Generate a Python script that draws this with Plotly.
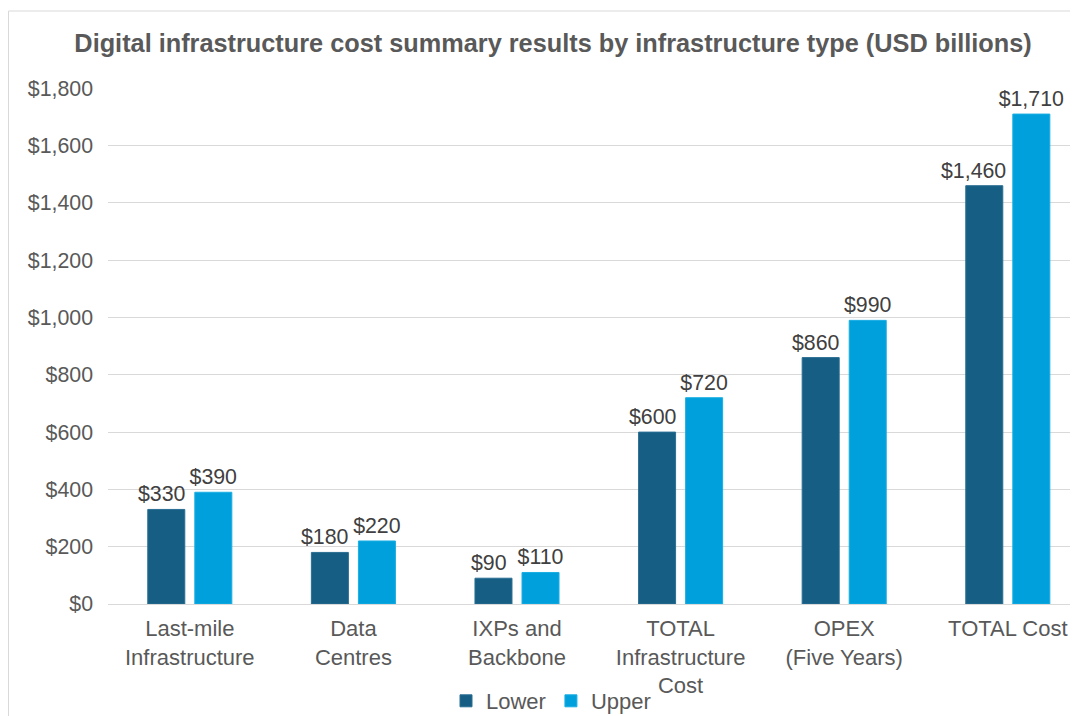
import plotly.graph_objects as go

categories = ["Last-mile<br>Infrastructure", "Data<br>Centres", "IXPs and<br>Backbone",
              "TOTAL<br>Infrastructure<br>Cost", "OPEX<br>(Five Years)", "TOTAL Cost"]
lower = [330, 180, 90, 600, 860, 1460]
upper = [390, 220, 110, 720, 990, 1710]
y_ticks = [0, 200, 400, 600, 800, 1000, 1200, 1400, 1600, 1800]
y_tick_text = ["$" + format(v, ",") for v in y_ticks]

FONT = "Liberation Sans, Arial, sans-serif"
W, H = 1070, 708
L, R, T, B = 100, 0, 80, 112
pw, ph = W - L - R, H - T - B
CAT_W = 163.6
LABEL_FONT = dict(family=FONT, size=21.33, color="#404040")

def px_x(p):
    return (p - L) / pw

def px_y(p):
    return (H - B - p) / ph

fig = go.Figure()
fig.add_trace(go.Bar(
    name="Lower", x=categories, y=lower,
    marker=dict(color="#165E83", line=dict(color="#2a6f93", width=1)),
))
fig.add_trace(go.Bar(
    name="Upper", x=categories, y=upper,
    marker=dict(color="#00A0DC", line=dict(color="#1aaee4", width=1)),
    text=["$" + format(v, ",") for v in upper], textposition="outside",
    constraintext="none", textfont=LABEL_FONT, cliponaxis=False,
))

# Lower-series data labels (nudged left of the bar centre as in the original)
annotations = [
    dict(x=c, y=v, xref="x", yref="y", text="$" + format(v, ","), showarrow=False,
         xanchor="center", yanchor="bottom", xshift=-28 - (6 if v >= 1000 else 0), yshift=1,
         font=LABEL_FONT)
    for c, v in zip(categories, lower)
]

fig.update_layout(
    width=W, height=H,
    margin=dict(l=L, r=R, t=T, b=B, autoexpand=False),
    paper_bgcolor="white", plot_bgcolor="white",
    barmode="group", bargap=0.425, bargroupgap=0.213,
    font=dict(family=FONT, color="#595959", size=22),
    title=dict(
        text="<b>Digital infrastructure cost summary results by infrastructure type (USD billions)</b>",
        x=545 / W, xanchor="center", xref="container",
        y=1 - 35 / H, yanchor="middle", yref="container",
        font=dict(family=FONT, size=25.3, color="#595959"),
    ),
    showlegend=True,
    legend=dict(
        orientation="h", x=px_x(543), xanchor="center", y=px_y(693), yanchor="middle",
        font=dict(family=FONT, size=22, color="#595959"),
        itemwidth=30, traceorder="normal",
    ),
    xaxis=dict(
        range=[-0.5, -0.5 + pw / CAT_W], showgrid=False, showline=False, zeroline=False,
        ticks="", tickfont=dict(family=FONT, size=22, color="#595959"),
        ticklabelstandoff=9, automargin=False,
    ),
    yaxis=dict(
        range=[0, 1801], tickvals=y_ticks, ticktext=y_tick_text,
        showgrid=True, gridcolor="#d9d9d9", gridwidth=1,
        zeroline=True, zerolinecolor="#d9d9d9", zerolinewidth=1,
        showline=False, ticks="", ticklabelstandoff=14, automargin=False,
        tickfont=dict(family=FONT, size=21.33, color="#595959"),
    ),
    annotations=annotations,
    shapes=[dict(
        type="rect", xref="paper", yref="paper",
        x0=px_x(0.5), x1=px_x(1100), y0=px_y(3), y1=px_y(760),
        line=dict(color="#d9d9d9", width=1), fillcolor="rgba(0,0,0,0)", layer="below",
    )],
)

fig.write_html("out.html")
